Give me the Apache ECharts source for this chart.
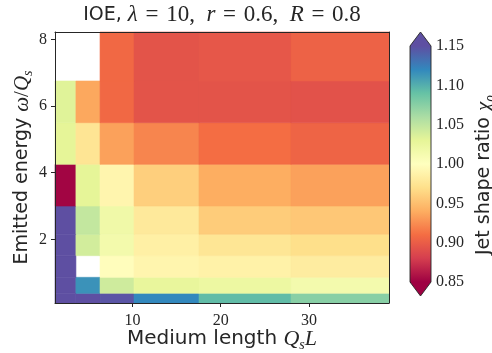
<!DOCTYPE html>
<html><head><meta charset="utf-8">
<script src="https://cdn.jsdelivr.net/npm/echarts@6/dist/echarts.min.js"></script>
<style>html,body{margin:0;padding:0;background:#fff}#c{width:492px;height:353px}</style>
</head><body><div id="c"></div>
<script>
// Cell edges (medium length Q_s L, emitted energy omega/Q_s)
const xEdges = [1.23, 3.6, 6.33, 10.18, 17.54, 27.96, 39.06];
const yEdges = [0.09, 0.38, 0.86, 1.51, 2.15, 3.0, 4.25, 5.5, 6.75, 8.22];
// jet shape ratio per row, bottom row first; null = no data (white)
const row1 = [1.15, 1.15, 1.147, 1.12, 1.093, 1.075];
const row2 = [1.15, 1.115, 1.042, 1.027, 1.022, 1.014];
const row3 = [1.15, null, 0.998, 0.99, 0.987, 0.982];
const row4 = [1.15, 1.04, 1.015, 0.985, 0.976, 0.97];
const row5 = [1.15, 1.048, 1.018, 0.979, 0.958, 0.955];
const row6 = [0.852, 1.03, 0.99, 0.96, 0.94, 0.934];
const row7 = [1.03, 0.975, 0.934, 0.921, 0.91, 0.904];
const row8 = [1.033, 0.937, 0.907, 0.894, 0.894, 0.893];
const row9 = [null, null, 0.907, 0.894, 0.896, 0.903];
const rows = [row1, row2, row3, row4, row5, row6, row7, row8, row9];
const xTicks = [10, 20, 30];
const yTicks = [2, 4, 6, 8];
const cbMin = 0.85, cbMax = 1.15, cbStep = 0.05;

const spectral = ['#9e0142','#d53e4f','#f46d43','#fdae61','#fee08b','#ffffbf','#e6f598','#abdda4','#66c2a5','#3288bd','#5e4fa2'];

const cells = [];
rows.forEach((r, ri) => r.forEach((v, ci) => {
  if (v !== null) cells.push([xEdges[ci], xEdges[ci + 1], yEdges[ri], yEdges[ri + 1], v]);
}));

const serif = 'Liberation Serif';
const sans = 'DejaVu Sans';
const ink = '#262626';
const sp = '\u2002';
const eq = '\u2004=\u2004';

const chart = echarts.init(document.getElementById('c'), null, {renderer: 'canvas'});
chart.setOption({
  animation: false,
  backgroundColor: '#fff',
  graphic: [{
    type: 'text', x: 222, y: 15, z: 10,
    style: {
      text: '{s|IOE, }{i|λ}{m|' + eq + '10,' + sp + '}{i|r}{m|' + eq + '0.6,' + sp + '}{i|R}{m|' + eq + '0.8}',
      align: 'center', verticalAlign: 'middle',
      rich: {
        s: {fontFamily: sans, fontSize: 19, fill: ink, color: ink},
        i: {fontFamily: serif, fontStyle: 'italic', fontSize: 23, fill: ink, color: ink},
        m: {fontFamily: serif, fontSize: 23, fill: ink, color: ink}
      }
    }
  }],
  grid: [
    {left: 55, right: 103, top: 32, bottom: 50, outerBoundsMode: 'none', containLabel: false},
    {left: 410, width: 21, top: 46, height: 236, outerBoundsMode: 'none', containLabel: false}
  ],
  visualMap: [{
    show: false, type: 'continuous', seriesIndex: 0, dimension: 4,
    min: cbMin, max: cbMax, inRange: {color: spectral}
  }],
  xAxis: [
    {
      gridIndex: 0, type: 'value', min: xEdges[0], max: xEdges[xEdges.length - 1], z: 5,
      axisLine: {show: true, onZero: false, lineStyle: {color: ink, width: 1}},
      axisTick: {show: true, customValues: xTicks, length: 4, inside: false, lineStyle: {color: ink}},
      axisLabel: {customValues: xTicks, fontFamily: serif, fontSize: 16, color: ink, margin: 10},
      splitLine: {show: false},
      name: '{s|Medium length }{i|Q}{sub|s}{i|L}',
      nameLocation: 'middle', nameGap: 23, nameMoveOverlap: false,
      nameTextStyle: {
        rich: {
          s: {fontFamily: sans, fontSize: 20, color: ink, lineHeight: 26, verticalAlign: 'middle'},
          i: {fontFamily: serif, fontStyle: 'italic', fontSize: 22, color: ink, lineHeight: 26, verticalAlign: 'middle'},
          sub: {fontFamily: serif, fontStyle: 'italic', fontSize: 14, color: ink, lineHeight: 14, verticalAlign: 'bottom'}
        }
      }
    },
    {
      gridIndex: 0, type: 'value', position: 'top', min: xEdges[0], max: xEdges[xEdges.length - 1], z: 5,
      axisLine: {show: true, onZero: false, lineStyle: {color: ink, width: 1}},
      axisTick: {show: false}, axisLabel: {show: false}, splitLine: {show: false}
    },
    {
      gridIndex: 1, type: 'value', min: 0, max: 1, show: false
    }
  ],
  yAxis: [
    {
      gridIndex: 0, type: 'value', min: yEdges[0], max: yEdges[yEdges.length - 1], z: 5,
      axisLine: {show: true, onZero: false, lineStyle: {color: ink, width: 1}},
      axisTick: {show: true, customValues: yTicks, length: 4, inside: false, lineStyle: {color: ink}},
      axisLabel: {customValues: yTicks, fontFamily: serif, fontSize: 16, color: ink, margin: 8},
      splitLine: {show: false},
      name: '{s|Emitted energy }{i|ω}{m|/}{i|Q}{sub|s}',
      nameLocation: 'middle', nameGap: 20, nameRotate: 90, nameMoveOverlap: false,
      nameTextStyle: {
        rich: {
          s: {fontFamily: sans, fontSize: 19, color: ink, lineHeight: 26, verticalAlign: 'middle'},
          i: {fontFamily: serif, fontStyle: 'italic', fontSize: 21, color: ink, lineHeight: 26, verticalAlign: 'middle'},
          m: {fontFamily: serif, fontSize: 21, color: ink, lineHeight: 26, verticalAlign: 'middle'},
          sub: {fontFamily: serif, fontStyle: 'italic', fontSize: 14, color: ink, lineHeight: 14, verticalAlign: 'bottom'}
        }
      }
    },
    {
      gridIndex: 0, type: 'value', position: 'right', min: yEdges[0], max: yEdges[yEdges.length - 1], z: 5,
      axisLine: {show: true, onZero: false, lineStyle: {color: ink, width: 1}},
      axisTick: {show: false}, axisLabel: {show: false}, splitLine: {show: false}
    },
    {
      gridIndex: 1, type: 'value', position: 'right', min: cbMin, max: cbMax, interval: cbStep,
      axisLine: {show: false},
      axisTick: {show: true, length: 4, inside: false, lineStyle: {color: ink}},
      axisLabel: {formatter: v => v.toFixed(2), fontFamily: serif, fontSize: 16, color: ink, margin: 5},
      splitLine: {show: false},
      name: '{s|Jet shape ratio }{i|χ}{sub|ρ}',
      nameLocation: 'middle', nameGap: 40, nameRotate: 90, nameMoveOverlap: false,
      nameTextStyle: {
        padding: [0, 22, 0, 0],
        rich: {
          s: {fontFamily: sans, fontSize: 19, color: ink, lineHeight: 26, verticalAlign: 'middle'},
          i: {fontFamily: serif, fontStyle: 'italic', fontSize: 21, color: ink, lineHeight: 26, verticalAlign: 'middle'},
          sub: {fontFamily: serif, fontStyle: 'italic', fontSize: 14, color: ink, lineHeight: 14, verticalAlign: 'bottom'}
        }
      }
    }
  ],
  series: [
    {
      type: 'custom', xAxisIndex: 0, yAxisIndex: 0, z: 2,
      encode: {x: [0, 1], y: [2, 3]},
      data: cells,
      renderItem: function (params, api) {
        const p0 = api.coord([api.value(0), api.value(3)]);
        const p1 = api.coord([api.value(1), api.value(2)]);
        const c = api.visual('color');
        return {type: 'rect', shape: {x: p0[0], y: p0[1], width: p1[0] - p0[0], height: p1[1] - p0[1]},
          style: {fill: c, stroke: c, lineWidth: 0.6}};
      }
    },
    {
      type: 'custom', xAxisIndex: 2, yAxisIndex: 2, clip: false, silent: true,
      encode: {x: [0, 1], y: [2, 3]},
      data: [[0, 1, cbMin, cbMax]],
      renderItem: function (params, api) {
        const tl = api.coord([api.value(0), api.value(3)]);
        const br = api.coord([api.value(1), api.value(2)]);
        const w = br[0] - tl[0], h = br[1] - tl[1];
        const ext = 14, mid = tl[0] + w / 2;
        const stops = spectral.slice().reverse().map((c, i, a) => ({offset: i / (a.length - 1), color: c}));
        return {type: 'group', children: [
          {type: 'rect', shape: {x: tl[0], y: tl[1], width: w, height: h},
            style: {fill: new echarts.graphic.LinearGradient(0, 0, 0, 1, stops)}},
          {type: 'polygon', shape: {points: [[tl[0], tl[1]], [mid, tl[1] - ext], [br[0], tl[1]]]},
            style: {fill: spectral[spectral.length - 1]}},
          {type: 'polygon', shape: {points: [[tl[0], br[1]], [mid, br[1] + ext], [br[0], br[1]]]},
            style: {fill: spectral[0]}},
          {type: 'polygon', shape: {points: [[tl[0], tl[1]], [mid, tl[1] - ext], [br[0], tl[1]], [br[0], br[1]], [mid, br[1] + ext], [tl[0], br[1]]]},
            style: {fill: 'none', stroke: ink, lineWidth: 0.9}}
        ]};
      }
    }
  ]
});
</script>
</body></html>
